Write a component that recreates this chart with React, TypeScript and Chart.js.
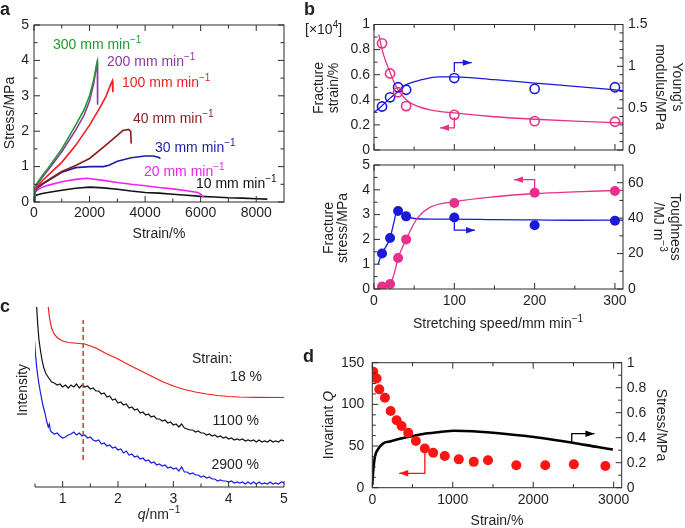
import React, { useEffect, useRef } from "react";
import { Chart, registerables } from "chart.js";

Chart.register(...registerables);

const W = 685;
const H = 528;
const FONT = '"Liberation Sans", Arial, Helvetica, sans-serif';
const TXT = "#231f20";
const AXIS = "#2b2b2b";

// ---------------- Panel a : stress–strain curves (strain %, stress MPa) ----------------
const A_LABELS = ["300", "200", "100", "40", "30", "20", "10"]; // mm min^-1
const A_300 = [[0, 0.05], [30, 0.4], [100, 0.52], [300, 0.75], [500, 0.95], [1000, 1.5], [1500, 2.17], [1800, 2.6], [2000, 3.0], [2150, 3.45], [2250, 3.85], [2290, 4.02]];
const A_200 = [[0, 0.05], [30, 0.35], [100, 0.47], [300, 0.7], [500, 0.9], [1000, 1.42], [1500, 2.03], [1800, 2.45], [2000, 2.85], [2150, 3.35], [2250, 3.85], [2280, 3.95], [2290, 2.75]];
const A_100 = [[0, 0.05], [30, 0.32], [100, 0.42], [300, 0.6], [500, 0.75], [1000, 1.12], [1500, 1.6], [2000, 2.17], [2400, 2.7], [2600, 3.0], [2750, 3.3], [2820, 3.42], [2840, 3.1]];
const A_40 = [[0, 0.05], [30, 0.3], [100, 0.4], [300, 0.52], [500, 0.62], [1000, 0.86], [1500, 1.03], [2000, 1.23], [2500, 1.55], [3000, 1.88], [3200, 2.02], [3400, 2.05], [3480, 2.0], [3500, 1.65]];
const A_30 = [[0, 0.05], [30, 0.28], [100, 0.38], [300, 0.5], [500, 0.6], [1000, 0.84], [1500, 0.97], [2000, 1.0], [2500, 1.0], [2700, 1.04], [3000, 1.15], [3500, 1.25], [4000, 1.3], [4300, 1.3], [4500, 1.26], [4550, 1.22]];
const A_20 = [[0, 0.05], [30, 0.25], [100, 0.33], [300, 0.42], [500, 0.47], [1000, 0.57], [1500, 0.64], [1900, 0.67], [2500, 0.61], [3000, 0.55], [3500, 0.5], [4000, 0.46], [4500, 0.41], [5000, 0.37], [5500, 0.32], [5900, 0.27], [6000, 0.22], [6100, 0.14]];
const A_10 = [[0, 0.02], [30, 0.15], [100, 0.2], [300, 0.24], [500, 0.27], [1000, 0.33], [1500, 0.39], [2000, 0.42], [2500, 0.4], [3000, 0.36], [3500, 0.31], [4000, 0.27], [4500, 0.25], [5000, 0.22], [5500, 0.19], [6000, 0.16], [6500, 0.14], [7000, 0.12], [7500, 0.11], [8000, 0.09], [8400, 0.08]];
const A_COLORS = ["#1f9a2e", "#8b3a9e", "#f01e22", "#8a1c1c", "#1c1ca8", "#f022f0", "#111111"];
const A_X_TICKS = [0, 2000, 4000, 6000, 8000];
const A_X_MINOR = [1000, 3000, 5000, 7000];
const A_Y_TICKS = [0, 1, 2, 3, 4, 5];
const A_Y_MINOR = [0.5, 1.5, 2.5, 3.5, 4.5];

// ---------------- Panel b : properties vs stretching speed ----------------
const B_SPEED = [10, 20, 30, 40, 100, 200, 300];
const B_STRAIN = [0.85, 0.61, 0.46, 0.35, 0.28, 0.23, 0.225]; // x10^4 %
const B_MODULUS = [0.52, 0.63, 0.75, 0.72, 0.86, 0.73, 0.75]; // MPa
const B_STRAIN_FIT = [[6, 0.92], [10, 0.8], [15, 0.7], [20, 0.62], [25, 0.54], [30, 0.48], [40, 0.4], [50, 0.36], [70, 0.32], [100, 0.295], [150, 0.265], [200, 0.245], [250, 0.23], [310, 0.215]];
const B_MODULUS_FIT = [[0, 0.45], [10, 0.53], [20, 0.62], [30, 0.7], [40, 0.78], [60, 0.84], [80, 0.875], [100, 0.875], [150, 0.84], [200, 0.8], [250, 0.76], [310, 0.71]];
const B_STRESS = [0.1, 0.2, 1.25, 2.0, 3.47, 3.88, 3.95]; // MPa
const B_TOUGH = [20, 28.8, 44, 41, 40.4, 36, 38.5]; // MJ m^-3
const B_STRESS_FIT = [[5, 0.02], [10, 0.08], [20, 0.22], [25, 0.6], [30, 1.25], [35, 1.65], [40, 2.0], [50, 2.65], [55, 2.9], [70, 3.3], [100, 3.52], [150, 3.72], [200, 3.85], [250, 3.92], [310, 3.98]];
const B_TOUGH_FIT = [[5, 14], [10, 20], [20, 28.8], [25, 38], [28, 43.5], [31, 44.5], [35, 42.5], [40, 41], [50, 39.8], [70, 39.5], [100, 39.5], [150, 39.2], [200, 39], [250, 38.8], [310, 38.9]];
const B_X_TICKS = [0, 100, 200, 300];
const B_X_MINOR = [50, 150, 250];
const B_STRAIN_TICKS = [0, 0.2, 0.4, 0.6, 0.8, 1];
const B_STRAIN_MINOR = [0.1, 0.3, 0.5, 0.7, 0.9];
const B_MOD_TICKS = [0, 0.5, 1, 1.5];
const B_MOD_MINOR = [0.1, 0.2, 0.3, 0.4, 0.6, 0.7, 0.8, 0.9, 1.1, 1.2, 1.3, 1.4];
const B_STRESS_TICKS = [0, 1, 2, 3, 4, 5];
const B_STRESS_MINOR = [0.5, 1.5, 2.5, 3.5, 4.5];
const B_TOUGH_TICKS = [0, 20, 40, 60];
const B_TOUGH_MINOR = [10, 30, 50];
const B_PINK = "#e8308a";
const B_BLUE = "#1a1ad8";

// ---------------- Panel c : SAXS profiles (q nm^-1, intensity a.u.) ----------------
const C_STRAINS = ["18 %", "1100 %", "2900 %"];
const C_18 = [[0.74, 180], [0.76, 170], [0.78, 164], [0.8, 159], [0.83, 155], [0.86, 152], [0.9, 149.5], [0.95, 147.5], [1.0, 146], [1.1, 144.5], [1.2, 144], [1.3, 143.5], [1.4, 143], [1.5, 141], [1.6, 139], [1.7, 136], [1.8, 133], [1.9, 130.5], [2.0, 128], [2.2, 122], [2.4, 116.5], [2.6, 111], [2.8, 105.5], [3.0, 101], [3.2, 97.5], [3.4, 95], [3.6, 93], [3.8, 91.5], [4.0, 90.5], [4.2, 90], [4.5, 89.7], [5.0, 89.5]];
const C_1100 = [[0.53, 180], [0.55, 162], [0.57, 148], [0.6, 136], [0.63, 126], [0.66, 119], [0.7, 113], [0.75, 109], [0.8, 105], [0.85, 104], [0.9, 102], [0.95, 103], [1.0, 100], [1.05, 102], [1.1, 99], [1.15, 102], [1.2, 100], [1.25, 103], [1.3, 99], [1.35, 102], [1.4, 100], [1.45, 101], [1.5, 98], [1.55, 99], [1.6, 96], [1.65, 96], [1.7, 93], [1.75, 94], [1.8, 90], [1.85, 91], [1.9, 87], [1.95, 88], [2.0, 84], [2.05, 85], [2.1, 82], [2.15, 83], [2.2, 79], [2.25, 80], [2.3, 77], [2.35, 78], [2.4, 74], [2.45, 75], [2.5, 72], [2.55, 73], [2.6, 70], [2.65, 71], [2.7, 68], [2.75, 68], [2.8, 66], [2.85, 67], [2.9, 64], [2.95, 65], [3.0, 62], [3.05, 63], [3.1, 60], [3.15, 63], [3.2, 59], [3.25, 58], [3.3, 57], [3.35, 57], [3.4, 55], [3.45, 56], [3.5, 54], [3.55, 54], [3.6, 52], [3.65, 53], [3.7, 51], [3.75, 52], [3.8, 50], [3.85, 51], [3.9, 49], [3.95, 50], [4.0, 48], [4.05, 49], [4.1, 47], [4.15, 48], [4.2, 47], [4.25, 48], [4.3, 46], [4.35, 47], [4.4, 46], [4.45, 47], [4.5, 45], [4.55, 47], [4.6, 45], [4.65, 46], [4.7, 45], [4.75, 47], [4.8, 45], [4.85, 46], [4.9, 45], [4.95, 47], [5.0, 46]];
const C_2900 = [[0.49, 147], [0.51, 132], [0.53, 120], [0.56, 107], [0.59, 97], [0.62, 88], [0.65, 80], [0.68, 74], [0.71, 66], [0.74, 60], [0.76, 63], [0.78, 56], [0.8, 55], [0.85, 53], [0.9, 54], [0.95, 51], [1.0, 49], [1.05, 50], [1.1, 52], [1.15, 53], [1.2, 55], [1.25, 52], [1.3, 54], [1.35, 51], [1.4, 52], [1.45, 49], [1.5, 50], [1.55, 47], [1.6, 46], [1.65, 47], [1.7, 43], [1.75, 44], [1.8, 41], [1.85, 42], [1.9, 39], [1.95, 40], [2.0, 37], [2.05, 38], [2.1, 34], [2.15, 36], [2.2, 32], [2.25, 33], [2.3, 30], [2.35, 31], [2.4, 28], [2.45, 29], [2.5, 26], [2.55, 27], [2.6, 24], [2.65, 25], [2.7, 22], [2.75, 23], [2.8, 21], [2.85, 22], [2.9, 19], [2.95, 20], [3.0, 18], [3.05, 19], [3.1, 16], [3.15, 20], [3.2, 15], [3.25, 15], [3.3, 13], [3.35, 14], [3.4, 12], [3.45, 12], [3.5, 10], [3.55, 11], [3.6, 9], [3.65, 10], [3.7, 8], [3.75, 8], [3.8, 6], [3.85, 7], [3.9, 6], [3.95, 6], [4.0, 5], [4.05, 6], [4.1, 4], [4.15, 5], [4.2, 4], [4.25, 5], [4.3, 3], [4.35, 5], [4.4, 3], [4.45, 5], [4.5, 3], [4.55, 5], [4.6, 3], [4.65, 4], [4.7, 3], [4.75, 5], [4.8, 3], [4.85, 4], [4.9, 3], [4.95, 5], [5.0, 4]];
const C_PEAK_Q = 1.37;
const C_PEAK_RANGE = [27, 167];
const C_X_TICKS = [1, 2, 3, 4, 5];
const C_X_MINOR = [0.5, 1.5, 2.5, 3.5, 4.5];

// ---------------- Panel d : invariant Q and stress vs strain ----------------
const D_STRAIN = [12, 54, 87, 157, 228, 302, 364, 446, 542, 653, 757, 901, 1075, 1261, 1438, 1790, 2150, 2505, 2897];
const D_Q = [139, 131, 118, 108, 92, 81, 74, 66, 56, 47, 42, 38, 34, 31, 33, 27, 27, 28, 26];
const D_STRESS = [[0, 0.02], [5, 0.08], [12, 0.14], [33, 0.25], [74, 0.31], [136, 0.355], [219, 0.37], [426, 0.403], [632, 0.43], [839, 0.445], [1017, 0.456], [1250, 0.452], [1665, 0.43], [2079, 0.4], [2492, 0.36], [2800, 0.325], [2990, 0.305]];
const D_X_TICKS = [0, 1000, 2000, 3000];
const D_X_MINOR = [500, 1500, 2500];
const D_Q_TICKS = [0, 50, 100, 150];
const D_Q_MINOR = [12.5, 25, 37.5, 62.5, 75, 87.5, 112.5, 125, 137.5];
const D_S_TICKS = [0, 0.2, 0.4, 0.6, 0.8, 1];
const D_S_MINOR = [0.1, 0.3, 0.5, 0.7, 0.9];

// ---------------- helpers ----------------
type Part = { t: string; sup?: boolean; it?: boolean };
function rich(ctx: CanvasRenderingContext2D, parts: Part[] | string, x: number, y: number, o: any = {}) {
  const ps: Part[] = typeof parts === "string" ? [{ t: parts }] : parts;
  const size = o.size ?? 14;
  const align = o.align ?? "center";
  ctx.save();
  ctx.translate(x, y);
  if (o.rot) ctx.rotate((o.rot * Math.PI) / 180);
  ctx.fillStyle = o.color ?? TXT;
  ctx.textAlign = "left";
  ctx.textBaseline = "alphabetic";
  const font = (p: Part) => `${p.it ? "italic " : ""}${o.bold ? "bold " : ""}${p.sup ? Math.round(size * 0.68) : size}px ${FONT}`;
  const ws = ps.map((p) => { ctx.font = font(p); return ctx.measureText(p.t).width; });
  const total = ws.reduce((a, b) => a + b, 0);
  let cx = align === "center" ? -total / 2 : align === "right" ? -total : 0;
  const by = o.baseline ? 0 : size * 0.35;
  ps.forEach((p, i) => {
    ctx.font = font(p);
    ctx.fillText(p.t, cx, by - (p.sup ? size * 0.42 : 0));
    cx += ws[i];
  });
  ctx.restore();
}
const MIN1: Part[] = [{ t: " mm min" }, { t: "\u22121", sup: true }];

const toXY = (pairs: number[][]) => pairs.map(([x, y]) => ({ x, y }));
const lineDs = (pairs: number[][], color: string, yAxisID = "y", width = 1.5, extra: any = {}) => ({
  data: toXY(pairs), showLine: true, borderColor: color, borderWidth: width, pointRadius: 0, yAxisID, fill: false, ...extra,
});
const ptsDs = (xs: number[], ys: number[], color: string, yAxisID: string, filled: boolean, r: number) => ({
  data: xs.map((x, i) => ({ x, y: ys[i] })), showLine: false, pointRadius: r, pointHoverRadius: r,
  pointBorderColor: color, pointBackgroundColor: filled ? color : "rgba(0,0,0,0)", pointBorderWidth: filled ? 0 : 1.6, yAxisID,
});

function buildChart(canvas: HTMLCanvasElement, s: any) {
  const leftW = s.yL.display === false ? 0 : 30;
  const rightW = s.yR ? 30 : 0;
  const xH = 24;
  const tickFont = { family: FONT, size: 14 };
  const fix = (vals: number[]) => (sc: any) => { sc.ticks = vals.map((v) => ({ value: v })); };
  const scales: any = {
    x: {
      type: "linear", position: "bottom", min: s.x.min, max: s.x.max,
      afterBuildTicks: fix(s.x.ticks),
      afterFit: (sc: any) => { sc.height = xH; },
      grid: { display: false, drawTicks: false }, border: { display: false },
      ticks: { display: s.x.labels, padding: s.x.pad ?? 4, font: tickFont, color: TXT, autoSkip: false, maxRotation: 0, callback: (v: any) => String(v) },
    },
    y: {
      type: "linear", position: "left", min: s.yL.min, max: s.yL.max, display: s.yL.display !== false,
      afterBuildTicks: fix(s.yL.ticks),
      afterFit: (sc: any) => { sc.width = leftW; },
      grid: { display: false, drawTicks: false }, border: { display: false },
      ticks: { padding: s.yL.pad ?? 5, font: tickFont, color: TXT, autoSkip: false, callback: (v: any) => String(v) },
    },
  };
  if (s.yR) {
    scales.y2 = {
      type: "linear", position: "right", min: s.yR.min, max: s.yR.max,
      afterBuildTicks: fix(s.yR.ticks),
      afterFit: (sc: any) => { sc.width = rightW; },
      grid: { display: false, drawTicks: false }, border: { display: false },
      ticks: { padding: s.yR.pad ?? 5, font: tickFont, color: TXT, autoSkip: false, callback: (v: any) => String(v) },
    };
  }
  const deco = {
    id: "deco",
    afterDatasetsDraw(chart: any) {
      const ctx: CanvasRenderingContext2D = chart.ctx;
      const { left, right, top, bottom } = chart.chartArea;
      ctx.save();
      ctx.strokeStyle = AXIS;
      ctx.lineWidth = 1;
      if (s.frame) ctx.strokeRect(left, top, right - left, bottom - top);
      if (s.baseline) {
        ctx.beginPath(); ctx.moveTo(left, bottom); ctx.lineTo(right, bottom); ctx.stroke();
      }
      for (const sd of s.sides) {
        const sc = chart.scales[sd.scale];
        const tick = (v: number, len: number) => {
          const p = sc.getPixelForValue(v);
          ctx.beginPath();
          if (sd.side === "left") { ctx.moveTo(left, p); ctx.lineTo(left + len, p); }
          if (sd.side === "right") { ctx.moveTo(right, p); ctx.lineTo(right - len, p); }
          if (sd.side === "bottom") { ctx.moveTo(p, bottom); ctx.lineTo(p, bottom - len); }
          if (sd.side === "top") { ctx.moveTo(p, top); ctx.lineTo(p, top + len); }
          ctx.stroke();
        };
        sd.major.forEach((v: number) => tick(v, 6));
        sd.minor.forEach((v: number) => tick(v, 3.5));
      }
      for (const a of s.arrows ?? []) {
        const xs = chart.scales.x;
        const ys = chart.scales[a.ys];
        const pts = a.pts.map(([x, y]: number[]) => [xs.getPixelForValue(x), ys.getPixelForValue(y)]);
        ctx.strokeStyle = a.color;
        ctx.fillStyle = a.color;
        ctx.lineWidth = 1.3;
        ctx.beginPath();
        pts.forEach(([x, y]: number[], i: number) => (i ? ctx.lineTo(x, y) : ctx.moveTo(x, y)));
        const [x1, y1] = pts[pts.length - 2];
        const [x2, y2] = pts[pts.length - 1];
        const d = Math.hypot(x2 - x1, y2 - y1);
        const ux = (x2 - x1) / d, uy = (y2 - y1) / d;
        const L = 9, hw = 3.2;
        ctx.lineTo(x2 - ux * L, y2 - uy * L);
        ctx.stroke();
        ctx.beginPath();
        ctx.moveTo(x2, y2);
        ctx.lineTo(x2 - ux * L - uy * hw, y2 - uy * L + ux * hw);
        ctx.lineTo(x2 - ux * L + uy * hw, y2 - uy * L - ux * hw);
        ctx.closePath();
        ctx.fill();
      }
      ctx.restore();
      if (s.draw) s.draw(ctx, chart);
    },
  };
  return new Chart(canvas, {
    type: "scatter",
    data: { datasets: s.datasets },
    options: {
      responsive: false,
      animation: false,
      events: [],
      devicePixelRatio: 1,
      layout: { padding: { left: s.area.l - leftW, right: W - s.area.r - rightW, top: s.area.t, bottom: H - s.area.b - xH } },
      plugins: { legend: { display: false }, tooltip: { enabled: false } },
      scales,
    },
    plugins: [deco],
  } as any);
}

function specs() {
  const aSeries = [A_300, A_200, A_100, A_40, A_30, A_20, A_10];
  const specA = {
    area: { l: 34, t: 25, r: 284, b: 202 },
    x: { min: 0, max: 9000, ticks: A_X_TICKS, labels: true, pad: 3 },
    yL: { min: 0, max: 5, ticks: A_Y_TICKS, pad: 5 },
    frame: true,
    sides: [
      { side: "left", scale: "y", major: A_Y_TICKS, minor: A_Y_MINOR },
      { side: "right", scale: "y", major: A_Y_TICKS, minor: A_Y_MINOR },
      { side: "bottom", scale: "x", major: A_X_TICKS, minor: A_X_MINOR },
      { side: "top", scale: "x", major: A_X_TICKS, minor: A_X_MINOR },
    ],
    datasets: aSeries.map((d, i) => lineDs(d, A_COLORS[i], "y", 1.6)),
    draw: (ctx: CanvasRenderingContext2D) => {
      rich(ctx, "a", 0, 15, { bold: true, size: 18, align: "left", baseline: true });
      rich(ctx, "Stress/MPa", 9, 113, { rot: -90 });
      rich(ctx, "Strain/%", 159, 233);
      const pos = [[53, 44], [107, 61], [122, 82], [133, 118], [155, 147], [144, 171], [196, 183]];
      A_LABELS.forEach((lab, i) => rich(ctx, [{ t: lab }, ...MIN1], pos[i][0], pos[i][1], { align: "left", color: A_COLORS[i] }));
    },
  };
  const specBT = {
    area: { l: 374, t: 24.5, r: 623, b: 150 },
    x: { min: 0, max: 310, ticks: B_X_TICKS, labels: false },
    yL: { min: 0, max: 1, ticks: B_STRAIN_TICKS, pad: 4 },
    yR: { min: 0, max: 1.5, ticks: B_MOD_TICKS, pad: 5 },
    frame: true,
    sides: [
      { side: "left", scale: "y", major: B_STRAIN_TICKS, minor: B_STRAIN_MINOR },
      { side: "right", scale: "y2", major: B_MOD_TICKS, minor: B_MOD_MINOR },
      { side: "bottom", scale: "x", major: B_X_TICKS, minor: B_X_MINOR },
      { side: "top", scale: "x", major: B_X_TICKS, minor: B_X_MINOR },
    ],
    datasets: [
      ptsDs(B_SPEED, B_STRAIN, B_PINK, "y", false, 4.6),
      ptsDs(B_SPEED, B_MODULUS, B_BLUE, "y2", false, 4.6),
      lineDs(B_STRAIN_FIT, B_PINK, "y", 1.3, { cubicInterpolationMode: "monotone" }),
      lineDs(B_MODULUS_FIT, B_BLUE, "y2", 1.3, { cubicInterpolationMode: "monotone" }),
    ],
    arrows: [
      { pts: [[100, 0.932], [100, 1.044], [121.7, 1.044]], ys: "y2", color: B_BLUE },
      { pts: [[100, 0.26], [100, 0.177], [82.2, 0.177]], ys: "y", color: B_PINK },
    ],
    draw: (ctx: CanvasRenderingContext2D) => {
      rich(ctx, "b", 304, 15, { bold: true, size: 18, align: "left", baseline: true });
      rich(ctx, [{ t: "[\u00d710" }, { t: "4", sup: true }, { t: "]" }], 305, 29, { align: "left" });
      rich(ctx, "Fracture", 318, 88, { rot: -90 });
      rich(ctx, "strain/%", 333, 88, { rot: -90 });
      rich(ctx, "Young's", 678, 87, { rot: 90 });
      rich(ctx, "modulus/MPa", 661, 87, { rot: 90 });
    },
  };
  const specBB = {
    area: { l: 374, t: 165, r: 623, b: 289 },
    x: { min: 0, max: 310, ticks: B_X_TICKS, labels: true, pad: 4 },
    yL: { min: 0, max: 5, ticks: B_STRESS_TICKS, pad: 4 },
    yR: { min: 0, max: 70, ticks: B_TOUGH_TICKS, pad: 5 },
    frame: true,
    sides: [
      { side: "left", scale: "y", major: B_STRESS_TICKS, minor: B_STRESS_MINOR },
      { side: "right", scale: "y2", major: B_TOUGH_TICKS, minor: B_TOUGH_MINOR },
      { side: "bottom", scale: "x", major: B_X_TICKS, minor: B_X_MINOR },
      { side: "top", scale: "x", major: B_X_TICKS, minor: B_X_MINOR },
    ],
    datasets: [
      ptsDs(B_SPEED, B_STRESS, B_PINK, "y", true, 5),
      ptsDs(B_SPEED, B_TOUGH, B_BLUE, "y2", true, 5),
      lineDs(B_STRESS_FIT, B_PINK, "y", 1.3, { cubicInterpolationMode: "monotone" }),
      lineDs(B_TOUGH_FIT, B_BLUE, "y2", 1.3, { cubicInterpolationMode: "monotone" }),
    ],
    arrows: [
      { pts: [[200, 4.07], [200, 4.41], [174.3, 4.41]], ys: "y", color: B_PINK },
      { pts: [[100, 37.7], [100, 33.2], [125.8, 33.2]], ys: "y2", color: B_BLUE },
    ],
    draw: (ctx: CanvasRenderingContext2D) => {
      rich(ctx, "Fracture", 328, 228, { rot: -90 });
      rich(ctx, "stress/MPa", 342, 228, { rot: -90 });
      rich(ctx, "Toughness", 676, 227, { rot: 90 });
      rich(ctx, [{ t: "/MJ m" }, { t: "\u22123", sup: true }], 659, 227, { rot: 90 });
      rich(ctx, [{ t: "Stretching speed/mm min" }, { t: "\u22121", sup: true }], 498, 323);
    },
  };
  const specC = {
    area: { l: 35, t: 297, r: 284, b: 487 },
    x: { min: 0.5, max: 5, ticks: C_X_TICKS, labels: true, pad: 4 },
    yL: { min: 0, max: 190, ticks: [0], display: false },
    frame: false,
    baseline: true,
    sides: [{ side: "bottom", scale: "x", major: C_X_TICKS, minor: C_X_MINOR }],
    datasets: [
      lineDs([[C_PEAK_Q, C_PEAK_RANGE[0]], [C_PEAK_Q, C_PEAK_RANGE[1]]], "#e0302f", "y", 1.5, { borderDash: [5, 3] }),
      lineDs(C_18, "#ee1c1c", "y", 1.2),
      lineDs(C_1100, "#111111", "y", 1.2),
      lineDs(C_2900, "#1a1ae0", "y", 1.2),
    ],
    draw: (ctx: CanvasRenderingContext2D) => {
      rich(ctx, "c", 0, 312, { bold: true, size: 18, align: "left", baseline: true });
      rich(ctx, "Intensity", 22, 390, { rot: -90 });
      rich(ctx, [{ t: "q", it: true }, { t: "/nm" }, { t: "\u22121", sup: true }], 159, 514);
      rich(ctx, "Strain:", 192, 358, { align: "left" });
      rich(ctx, C_STRAINS[0], 262, 376, { align: "right" });
      rich(ctx, C_STRAINS[1], 259, 420, { align: "right" });
      rich(ctx, C_STRAINS[2], 259, 464, { align: "right" });
    },
  };
  const specD = {
    area: { l: 372.3, t: 362.7, r: 621.7, b: 487.7 },
    x: { min: 0, max: 3100, ticks: D_X_TICKS, labels: true, pad: 4 },
    yL: { min: 0, max: 150, ticks: D_Q_TICKS, pad: 8 },
    yR: { min: 0, max: 1, ticks: D_S_TICKS, pad: 5 },
    frame: true,
    sides: [
      { side: "left", scale: "y", major: D_Q_TICKS, minor: D_Q_MINOR },
      { side: "right", scale: "y2", major: D_S_TICKS, minor: D_S_MINOR },
      { side: "bottom", scale: "x", major: D_X_TICKS, minor: D_X_MINOR },
      { side: "top", scale: "x", major: D_X_TICKS, minor: D_X_MINOR },
    ],
    datasets: [
      ptsDs(D_STRAIN, D_Q, "#ff1414", "y", true, 5),
      lineDs(D_STRESS, "#000000", "y2", 2.6, { cubicInterpolationMode: "monotone" }),
    ],
    arrows: [
      { pts: [[2479, 0.36], [2479, 0.432], [2761, 0.432]], ys: "y2", color: "#000000" },
      { pts: [[653, 41.3], [653, 17.3], [335, 17.3]], ys: "y", color: "#ff1414" },
    ],
    draw: (ctx: CanvasRenderingContext2D) => {
      rich(ctx, "d", 303, 362, { bold: true, size: 18, align: "left", baseline: true });
      rich(ctx, [{ t: "Invariant " }, { t: "Q", it: true }], 328, 425, { rot: -90 });
      rich(ctx, "Stress/MPa", 662, 425, { rot: 90 });
      rich(ctx, "Strain/%", 497, 520);
    },
  };
  return [specA, specBT, specBB, specC, specD];
}

export default function App() {
  const refs = useRef<(HTMLCanvasElement | null)[]>([]);
  useEffect(() => {
    const charts = specs().map((s, i) => buildChart(refs.current[i] as HTMLCanvasElement, s));
    return () => charts.forEach((c) => c.destroy());
  }, []);
  return (
    <div style={{ position: "absolute", left: 0, top: 0, width: W, height: H, background: "#ffffff", overflow: "hidden" }}>
      {[0, 1, 2, 3, 4].map((i) => (
        <canvas
          key={i}
          ref={(el) => { refs.current[i] = el; }}
          width={W}
          height={H}
          style={{ position: "absolute", left: 0, top: 0, width: W, height: H }}
        />
      ))}
    </div>
  );
}
